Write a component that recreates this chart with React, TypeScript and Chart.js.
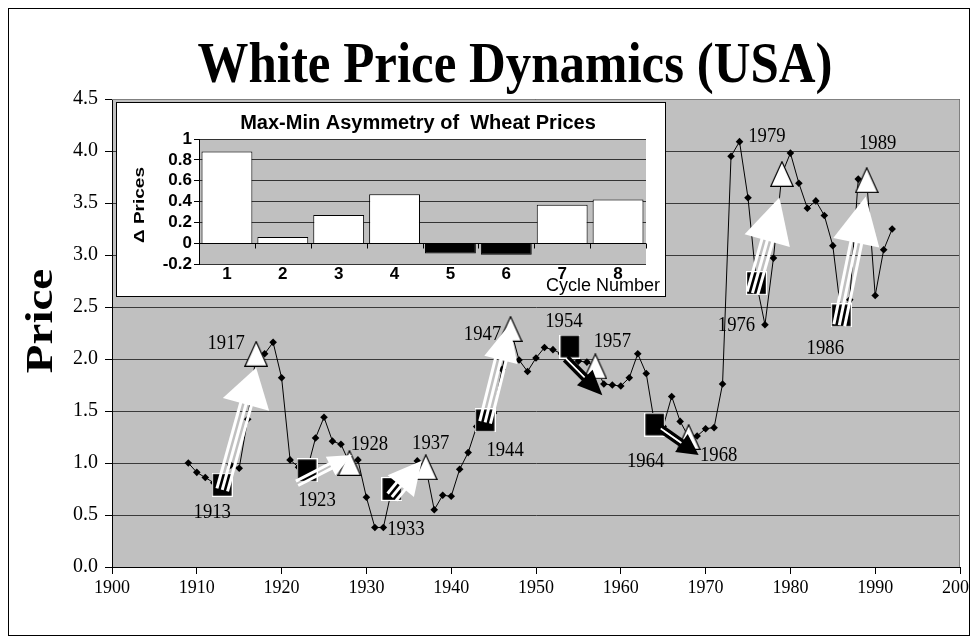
import React, { useEffect, useRef } from "react";
import { Chart, registerables } from "chart.js";

Chart.register(...registerables);

// ---------------- DATA ----------------
const years = [
  1909, 1910, 1911, 1912, 1913, 1914, 1915, 1916, 1917, 1918, 1919, 1920,
  1921, 1922, 1923, 1924, 1925, 1926, 1927, 1928, 1929, 1930, 1931, 1932,
  1933, 1934, 1935, 1936, 1937, 1938, 1939, 1940, 1941, 1942, 1943, 1944,
  1945, 1946, 1947, 1948, 1949, 1950, 1951, 1952, 1953, 1954, 1955, 1956,
  1957, 1958, 1959, 1960, 1961, 1962, 1963, 1964, 1965, 1966, 1967, 1968,
  1969, 1970, 1971, 1972, 1973, 1974, 1975, 1976, 1977, 1978, 1979, 1980,
  1981, 1982, 1983, 1984, 1985, 1986, 1987, 1988, 1989, 1990, 1991, 1992,
];
const prices = [
  1.0, 0.91, 0.86, 0.81, 0.79, 0.98, 0.95, 1.42, 2.05, 2.05, 2.16, 1.82,
  1.03, 0.96, 0.93, 1.24, 1.44, 1.21, 1.18, 1.0, 1.03, 0.67, 0.38, 0.38,
  0.75, 0.85, 0.84, 1.02, 0.96, 0.55, 0.69, 0.68, 0.94, 1.1, 1.35, 1.41,
  1.48, 1.9, 2.29, 1.99, 1.88, 2.01, 2.11, 2.09, 2.05, 2.12, 1.98, 1.97,
  1.93, 1.76, 1.75, 1.74, 1.82, 2.05, 1.86, 1.37, 1.35, 1.64, 1.4, 1.25,
  1.26, 1.33, 1.34, 1.76, 3.95, 4.09, 3.55, 2.73, 2.33, 2.97, 3.78, 3.98,
  3.69, 3.45, 3.52, 3.38, 3.09, 2.42, 2.57, 3.73, 3.72, 2.61, 3.05, 3.25,
];
const troughYears = [1913, 1923, 1933, 1944, 1954, 1964, 1976, 1986];
const peakYears = [1917, 1928, 1937, 1947, 1957, 1968, 1979, 1989];

const cycleLabels = ["1", "2", "3", "4", "5", "6", "7", "8"];
const asymmetry = [0.88, 0.06, 0.27, 0.47, -0.1, -0.11, 0.37, 0.42];

const MAIN_TITLE = "White Price Dynamics (USA)";
const Y_TITLE = "Price";
const INSET_TITLE = "Max-Min Asymmetry of  Wheat Prices";
const INSET_Y_TITLE = "\u0394 Prices";
const INSET_X_TITLE = "Cycle Number";

// ---------------- STYLE ----------------
const SERIF = '"Liberation Serif", "Times New Roman", serif';
const SANS = '"Liberation Sans", Arial, sans-serif';

const troughLabelOffsets = [
  [-10, 27], [10, 30], [14, 40], [20, 30], [-6, -25], [-9, 37], [-20, 42], [-16, 33],
];
const peakLabelOffsets = [
  [-30, -11], [20, -19], [5, -24], [-28, 5], [17, -25], [30, 18], [-15, -38], [11, -37],
];
type ArrowStyle = {
  tail: number[]; tip: number[]; headLen: number; headW: number;
  stripes: number; color: string;
};
const arrowStyles: ArrowStyle[] = [
  { tail: [0, 5], tip: [0, 14], headLen: 38, headW: 48, stripes: 3, color: "#fff" },
  { tail: [-10, 13], tip: [2.5, -8], headLen: 24, headW: 21, stripes: 2, color: "#fff" },
  { tail: [0, 8], tip: [-4, -6.5], headLen: 33, headW: 34, stripes: 3, color: "#fff" },
  { tail: [0, 2], tip: [-1, -4], headLen: 36, headW: 34, stripes: 3, color: "#fff" },
  { tail: [-4, 12], tip: [7, 29], headLen: 25, headW: 22, stripes: 2, color: "#000" },
  { tail: [6, 4], tip: [10, 18], headLen: 21, headW: 22, stripes: 2, color: "#000" },
  { tail: [-4, 10], tip: [-2.5, 23.5], headLen: 45, headW: 47, stripes: 3, color: "#fff" },
  { tail: [-2, 10], tip: [-1, 16.5], headLen: 47, headW: 47, stripes: 3, color: "#fff" },
];

const BOX_W = 962;
const BOX_H = 628;

const priceAt = (yr: number) => prices[years.indexOf(yr)];

function drawText(
  ctx: CanvasRenderingContext2D,
  text: string,
  x: number,
  y: number,
  opt: {
    font: string; align?: CanvasTextAlign; baseline?: CanvasTextBaseline;
    sx?: number; sy?: number; rotate?: number; width?: number; color?: string;
  }
) {
  ctx.save();
  ctx.translate(x, y);
  if (opt.rotate) ctx.rotate(opt.rotate);
  ctx.font = opt.font;
  let sx = opt.sx ?? 1;
  if (opt.width) sx = opt.width / ctx.measureText(text).width;
  ctx.scale(sx, opt.sy ?? 1);
  ctx.textAlign = opt.align ?? "center";
  ctx.textBaseline = opt.baseline ?? "middle";
  ctx.fillStyle = opt.color ?? "#000";
  ctx.fillText(text, 0, 0);
  ctx.restore();
}

function makeSquareImg() {
  const c = document.createElement("canvas");
  c.width = 21;
  c.height = 24;
  const g = c.getContext("2d")!;
  g.fillStyle = "#fff";
  g.fillRect(0, 0, 21, 24);
  g.fillStyle = "#000";
  g.fillRect(1.2, 1.2, 18.6, 21.6);
  return c;
}
function makeTriangleImg() {
  const c = document.createElement("canvas");
  c.width = 24;
  c.height = 26;
  const g = c.getContext("2d")!;
  g.beginPath();
  g.moveTo(12, 0.8);
  g.lineTo(23.2, 25.4);
  g.lineTo(0.8, 25.4);
  g.closePath();
  g.fillStyle = "#fff";
  g.fill();
  g.strokeStyle = "#000";
  g.lineWidth = 1.2;
  g.stroke();
  return c;
}

function drawArrow(
  ctx: CanvasRenderingContext2D,
  x0: number, y0: number, x1: number, y1: number, st: ArrowStyle
) {
  const dx = x1 - x0, dy = y1 - y0;
  const L = Math.hypot(dx, dy);
  const ux = dx / L, uy = dy / L;
  const px = -uy, py = ux;
  const bx = x1 - ux * st.headLen, by = y1 - uy * st.headLen;
  ctx.save();
  ctx.lineCap = "butt";
  const gap = st.stripes === 3 ? 5.5 : 5;
  for (let i = 0; i < st.stripes; i++) {
    const o = (i - (st.stripes - 1) / 2) * gap;
    ctx.beginPath();
    ctx.moveTo(x0 + px * o, y0 + py * o);
    ctx.lineTo(bx + px * o + ux * 2, by + py * o + uy * 2);
    ctx.lineWidth = st.color === "#000" ? 3.5 : 3;
    ctx.strokeStyle = st.color;
    ctx.stroke();
  }
  if (st.color === "#000") {
    ctx.beginPath();
    ctx.moveTo(x0, y0);
    ctx.lineTo(bx, by);
    ctx.lineWidth = 1.6;
    ctx.strokeStyle = "#fff";
    ctx.stroke();
  }
  ctx.beginPath();
  ctx.moveTo(x1, y1);
  ctx.lineTo(bx + (px * st.headW) / 2, by + (py * st.headW) / 2);
  ctx.lineTo(bx - (px * st.headW) / 2, by - (py * st.headW) / 2);
  ctx.closePath();
  ctx.fillStyle = st.color;
  ctx.fill();
  ctx.restore();
}

const mainDecor = {
  id: "mainDecor",
  beforeDraw(chart: any) {
    const { ctx, chartArea: a, width, height } = chart;
    ctx.save();
    ctx.fillStyle = "#fff";
    ctx.fillRect(0, 0, width, height);
    ctx.fillStyle = "#C0C0C0";
    ctx.fillRect(a.left, a.top, a.right - a.left, a.bottom - a.top);
    drawText(ctx, MAIN_TITLE, 507, 74, {
      font: `bold 58px ${SERIF}`, baseline: "alphabetic", width: 635,
    });
    drawText(ctx, Y_TITLE, 44, 313, {
      font: `bold 47px ${SERIF}`, baseline: "alphabetic", rotate: -Math.PI / 2, sy: 0.8,
    });
    ctx.restore();
  },
  beforeDatasetsDraw(chart: any) {
    const { ctx, chartArea: a } = chart;
    ctx.save();
    ctx.strokeStyle = "#808080";
    ctx.lineWidth = 1;
    ctx.beginPath();
    ctx.moveTo(a.left, a.top + 0.5);
    ctx.lineTo(a.right - 0.5, a.top + 0.5);
    ctx.lineTo(a.right - 0.5, a.bottom);
    ctx.stroke();
    ctx.restore();
  },
  afterDatasetsDraw(chart: any) {
    const { ctx } = chart;
    const xs = chart.scales.x, ys = chart.scales.y;
    const font = `22px ${SERIF}`;
    troughYears.forEach((ty, i) => {
      const py = peakYears[i];
      const sx = xs.getPixelForValue(ty), sy = ys.getPixelForValue(priceAt(ty));
      const tx = xs.getPixelForValue(py), tyy = ys.getPixelForValue(priceAt(py));
      const st = arrowStyles[i];
      drawArrow(ctx, sx + st.tail[0], sy + st.tail[1], tx + st.tip[0], tyy + st.tip[1], st);
    });
    troughYears.forEach((ty, i) => {
      const x = xs.getPixelForValue(ty), y = ys.getPixelForValue(priceAt(ty));
      drawText(ctx, String(ty), x + troughLabelOffsets[i][0], y + troughLabelOffsets[i][1], { font, sx: 0.85 });
    });
    peakYears.forEach((py, i) => {
      const x = xs.getPixelForValue(py), y = ys.getPixelForValue(priceAt(py));
      drawText(ctx, String(py), x + peakLabelOffsets[i][0], y + peakLabelOffsets[i][1], { font, sx: 0.85 });
    });
  },
  afterDraw(chart: any) {
    const { ctx } = chart;
    ctx.save();
    ctx.strokeStyle = "#000";
    ctx.lineWidth = 1;
    ctx.strokeRect(0.5, 0.5, BOX_W - 1, BOX_H - 1);
    ctx.restore();
  },
};

const insetDecor = {
  id: "insetDecor",
  beforeDraw(chart: any) {
    const { ctx, chartArea: a, width, height } = chart;
    ctx.save();
    ctx.fillStyle = "#fff";
    ctx.fillRect(0, 0, width, height);
    ctx.fillStyle = "#C0C0C0";
    ctx.fillRect(a.left, a.top, a.right - a.left, a.bottom - a.top);
    ctx.restore();
  },
  afterDatasetsDraw(chart: any) {
    const { ctx, chartArea: a } = chart;
    const y0 = Math.round(chart.scales.y.getPixelForValue(0)) + 0.5;
    ctx.save();
    ctx.strokeStyle = "#000";
    ctx.lineWidth = 1;
    ctx.beginPath();
    ctx.moveTo(a.left, y0);
    ctx.lineTo(a.right, y0);
    const n = cycleLabels.length;
    for (let i = 0; i <= n; i++) {
      const x = Math.round(a.left + ((a.right - a.left) * i) / n) + 0.5;
      ctx.moveTo(x, y0);
      ctx.lineTo(x, y0 + 5);
    }
    ctx.stroke();
    ctx.restore();
  },
  afterDraw(chart: any) {
    const { ctx, width, height } = chart;
    drawText(ctx, INSET_TITLE, 302, 21, { font: `bold 20px ${SANS}` });
    drawText(ctx, INSET_Y_TITLE, 24, 103, {
      font: `bold 19px ${SANS}`, rotate: -Math.PI / 2, sy: 0.8,
    });
    drawText(ctx, INSET_X_TITLE, 544, 184, { font: `18px ${SANS}`, align: "right" });
    ctx.save();
    ctx.strokeStyle = "#000";
    ctx.lineWidth = 1;
    ctx.strokeRect(0.5, 0.5, width - 1, height - 1);
    ctx.restore();
  },
};

export default function App() {
  const mainRef = useRef<HTMLCanvasElement>(null);
  const insetRef = useRef<HTMLCanvasElement>(null);

  useEffect(() => {
    const sq = makeSquareImg();
    const tri = makeTriangleImg();

    const main = new Chart(mainRef.current!, {
      type: "scatter",
      data: {
        datasets: [
          {
            type: "line",
            data: years.map((y, i) => ({ x: y, y: prices[i] })),
            borderColor: "#000",
            borderWidth: 1,
            pointStyle: "rectRot",
            pointRadius: 3.8,
            pointBackgroundColor: "#000",
            pointBorderColor: "#000",
            pointBorderWidth: 0,
            tension: 0,
            fill: false,
            order: 3,
          } as any,
          {
            data: troughYears.map((y) => ({ x: y, y: priceAt(y) })),
            pointStyle: sq as any,
            pointRadius: 10,
            showLine: false,
            order: 2,
          },
          {
            data: peakYears.map((y) => ({ x: y, y: priceAt(y) })),
            pointStyle: tri as any,
            pointRadius: 10,
            showLine: false,
            order: 1,
          },
        ],
      },
      options: {
        responsive: false,
        animation: false,
        events: [],
        layout: { padding: { top: 91, right: 18, left: 0, bottom: 0 } },
        plugins: {
          legend: { display: false },
          title: { display: false },
          tooltip: { enabled: false },
        },
        scales: {
          x: {
            type: "linear",
            min: 1900,
            max: 2000,
            ticks: {
              stepSize: 10,
              callback: (v: any) => String(v),
              font: { family: SERIF, size: 18 },
              color: "#000",
              padding: 3,
              maxRotation: 0,
              autoSkip: false,
            },
            grid: {
              drawOnChartArea: false,
              drawTicks: true,
              tickLength: 7,
              tickColor: "#000",
              color: "#000",
            },
            border: { color: "#000", width: 1 },
            afterFit: (s: any) => {
              s.height = 69;
              s.paddingLeft = 0;
              s.paddingRight = 0;
            },
          },
          y: {
            type: "linear",
            min: 0,
            max: 4.5,
            ticks: {
              stepSize: 0.5,
              callback: (v: any) => Number(v).toFixed(1),
              font: { family: SERIF, size: 20 },
              color: "#000",
              padding: 7,
              autoSkip: false,
            },
            grid: { color: "#3a3a3a", tickColor: "#000", tickLength: 7 },
            border: { color: "#000", width: 1 },
            afterFit: (s: any) => {
              s.width = 104;
            },
          },
        },
      } as any,
      plugins: [mainDecor],
    });

    const inset = new Chart(insetRef.current!, {
      type: "bar",
      data: {
        labels: cycleLabels,
        datasets: [
          {
            data: asymmetry,
            backgroundColor: asymmetry.map((v) => (v >= 0 ? "#fff" : "#000")),
            borderColor: "#000",
            borderWidth: 1,
            categoryPercentage: 0.91,
            barPercentage: 1,
          },
        ],
      },
      options: {
        responsive: false,
        animation: false,
        events: [],
        layout: { padding: { top: 37, right: 20, left: 0, bottom: 0 } },
        plugins: {
          legend: { display: false },
          title: { display: false },
          tooltip: { enabled: false },
        },
        scales: {
          x: {
            ticks: {
              font: { family: SANS, size: 17, weight: "bold" },
              color: "#000",
              padding: 0,
              autoSkip: false,
              maxRotation: 0,
            },
            grid: { display: false, drawTicks: false, tickLength: 0 },
            border: { display: false },
            afterFit: (s: any) => {
              s.height = 33;
            },
          },
          y: {
            min: -0.2,
            max: 1,
            ticks: {
              stepSize: 0.2,
              autoSkip: false,
              callback: (v: any) => String(Math.round(Number(v) * 10) / 10),
              font: { family: SANS, size: 17, weight: "bold" },
              color: "#000",
              padding: 2,
            },
            grid: { color: "#333", tickColor: "#000", tickLength: 5 },
            border: { color: "#000", width: 1 },
            afterFit: (s: any) => {
              s.width = 83;
            },
          },
        },
      } as any,
      plugins: [insetDecor],
    });

    return () => {
      main.destroy();
      inset.destroy();
    };
  }, []);

  return (
    <div style={{ position: "relative", width: 970, height: BOX_H }}>
      <canvas
        ref={mainRef}
        width={970}
        height={BOX_H}
        style={{ position: "absolute", left: 0, top: 0, width: 970, height: BOX_H }}
      />
      <canvas
        ref={insetRef}
        width={550}
        height={195}
        style={{ position: "absolute", left: 108, top: 94, width: 550, height: 195 }}
      />
    </div>
  );
}
